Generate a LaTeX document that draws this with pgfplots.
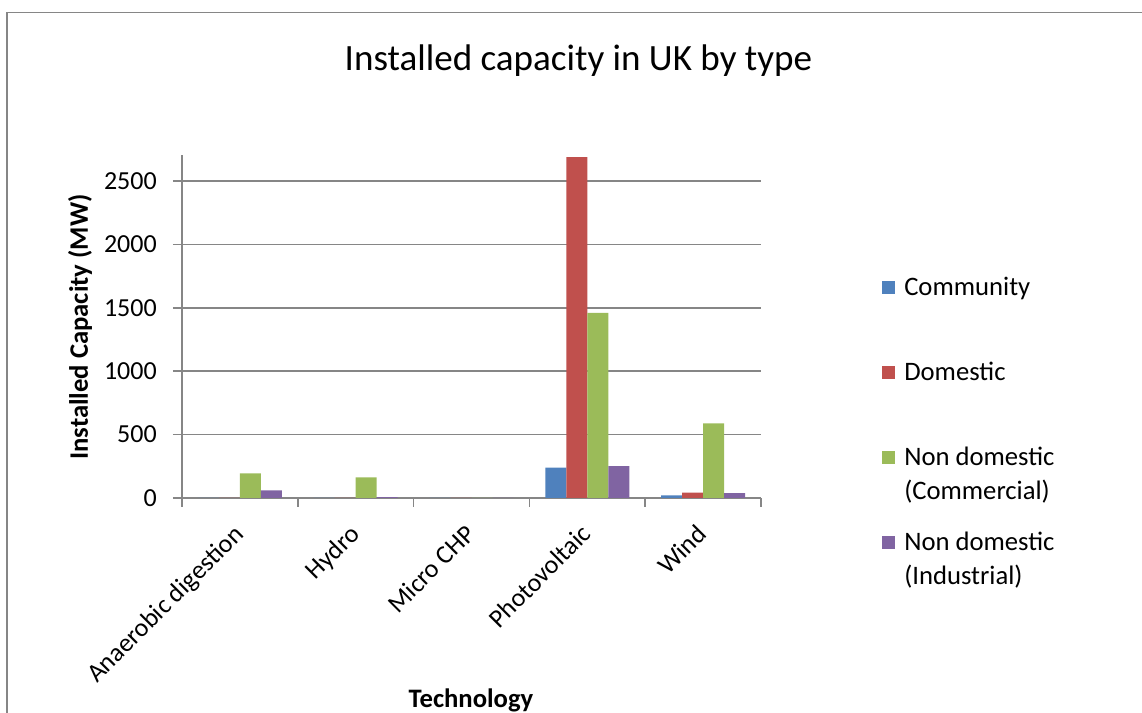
\documentclass[border=0pt]{standalone}
\usepackage{pgfplots}
\pgfplotsset{compat=1.18}
\usepackage{fontspec}
\setmainfont{Carlito}

\definecolor{cComm}{HTML}{4F81BD}
\definecolor{cDom}{HTML}{C0504D}
\definecolor{cNDC}{HTML}{9BBB59}
\definecolor{cNDI}{HTML}{8064A2}
\definecolor{axisgray}{HTML}{868686}

% Installed capacity (MW) by technology:
% Anaerobic digestion, Hydro, Micro CHP, Photovoltaic, Wind
\pgfplotstableread{
x  comm  dom   ndc   ndi
0  0     0     195   61
1  0     0     163   6
2  0     0     0     0
3  239   2688  1459  252
4  21    42    589   39
}\capacity

\begin{document}
\begin{tikzpicture}
\path[use as bounding box] (0,0) rectangle (856.5pt,534.75pt);
% chart-area frame
\draw[axisgray, line width=1.1pt] (5.25pt,-2pt) -- (5.25pt,525.5pt) -- (860pt,525.5pt);

\node[anchor=base, font=\fontsize{27.8}{33}\selectfont] at (433.8pt,481.6pt)
  {Installed capacity in UK by type};

\begin{axis}[
  at={(136.5pt,161.25pt)}, anchor=south west,
  scale only axis, width=434.25pt, height=257.25pt,
  ybar=0pt, bar width=15.75pt,
  xmin=-0.5, xmax=4.5, ymin=0, ymax=2705,
  xtick={-0.5,0.5,...,4.5},
  xticklabels={Anaerobic digestion,Hydro,Micro CHP,Photovoltaic,Wind},
  x tick label as interval,
  ytick={0,500,...,2500},
  scaled y ticks=false,
  /pgf/number format/assume math mode=true,
  /pgf/number format/set thousands separator={},
  axis x line*=bottom, axis y line*=left,
  axis line style={axisgray, line width=1.1pt, -},
  tick style={axisgray, line width=1.1pt},
  tick align=outside, major tick length=6.75pt,
  ymajorgrids, grid style={axisgray, line width=1.1pt},
  ticklabel style={font=\fontsize{19.5}{23}\selectfont, text=black},
  xticklabel style={xshift=-5.7pt, yshift=-11.8pt, rotate=45, anchor=north east, inner sep=0pt},
  yticklabel style={inner sep=0pt, xshift=-12pt},
  legend style={draw=none, fill=none, inner sep=0pt,
    at={(1.209,0.66)}, anchor=north west,
    cells={anchor=base west},
    nodes={inner sep=0pt, text depth=0pt, font=\fontsize{20}{25.5}\selectfont},
    row sep=45.9pt, column sep=6.75pt},
  legend image code/.code={\fill[#1] (0pt,1.5pt) rectangle (9.75pt,11.25pt);},
]
\addplot[fill=cComm, draw=none] table[x=x, y=comm] {\capacity};
\addplot[fill=cDom,  draw=none] table[x=x, y=dom]  {\capacity};
\addplot[fill=cNDC,  draw=none] table[x=x, y=ndc]  {\capacity};
\addplot[fill=cNDI,  draw=none] table[x=x, y=ndi]  {\capacity};
\addlegendentry{\parbox[t]{130pt}{\strut Community}}
\addlegendentry{\parbox[t]{130pt}{\strut Domestic}}
\addlegendentry{\parbox[t]{130pt}{\strut Non domestic\\(Commercial)}}
\addlegendentry{\parbox[t]{130pt}{\strut Non domestic\\(Industrial)}}
\end{axis}

\node[rotate=90, font=\bfseries\fontsize{20}{24}\selectfont] at (60pt,289.5pt)
  {Installed Capacity (MW)};
\node[anchor=base, font=\bfseries\fontsize{20}{24}\selectfont] at (353.25pt,3.75pt)
  {Technology};
\end{tikzpicture}
\end{document}
